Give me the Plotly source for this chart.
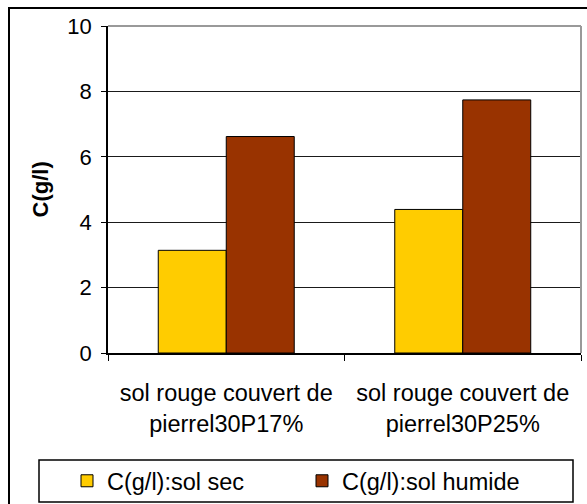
import plotly.graph_objects as go

categories = ["sol rouge couvert de<br>pierrel30P17%", "sol rouge couvert de<br>pierrel30P25%"]
sec_values = [3.14, 4.39]
humide_values = [6.62, 7.74]
series_names = ["C(g/l):sol sec", "C(g/l):sol humide"]
y_ticks = [0, 2, 4, 6, 8, 10]

W, H = 587, 504
L, R, T, B = 108, 6, 26, 151
PW, PH = W - L - R, H - T - B

def px(x):
    return (x - L) / PW

def py(y):
    return (T + PH - y) / PH

FONT = "Liberation Sans, Arial, sans-serif"

fig = go.Figure()
fig.add_trace(go.Bar(x=categories, y=sec_values, name=series_names[0],
                     marker=dict(color="#FFCC00", line=dict(color="black", width=1))))
fig.add_trace(go.Bar(x=categories, y=humide_values, name=series_names[1],
                     marker=dict(color="#993300", line=dict(color="black", width=1))))

fig.update_layout(
    width=W, height=H,
    margin=dict(l=L, r=R, t=T, b=B, pad=0, autoexpand=False),
    paper_bgcolor="white", plot_bgcolor="white",
    font=dict(family=FONT, size=23, color="black"),
    barmode="group", bargap=0.425, bargroupgap=0,
    showlegend=True,
    legend=dict(orientation="h", x=px(67), y=py(481), xanchor="left", yanchor="middle",
                bgcolor="rgba(0,0,0,0)", borderwidth=0,
                entrywidth=190, entrywidthmode="pixels",
                font=dict(family=FONT, size=23.5, color="black")),
    xaxis=dict(showline=True, linecolor="black", linewidth=1.5,
               ticks="outside", tickson="boundaries", ticklen=6, tickcolor="black",
               tickfont=dict(family=FONT, size=23.5, color="black"),
               ticklabelstandoff=18, showgrid=False, automargin=False),
    yaxis=dict(range=[0, 10], tickvals=y_ticks, showline=True, linecolor="black", linewidth=1.5,
               ticks="outside", ticklen=5, tickcolor="black",
               tickfont=dict(family=FONT, size=22, color="black"),
               ticklabelstandoff=5,
               showgrid=True, gridcolor="#1a1a1a", gridwidth=1.2, zeroline=False, automargin=False),
    shapes=[
        dict(type="line", xref="paper", yref="paper", x0=0, x1=1, y0=1, y1=1,
             line=dict(color="#999999", width=2)),
        dict(type="line", xref="paper", yref="paper", x0=1, x1=1, y0=0, y1=1,
             line=dict(color="#999999", width=2)),
        dict(type="rect", xref="paper", yref="paper", x0=px(9), x1=px(595), y0=py(512), y1=py(8),
             line=dict(color="black", width=2), fillcolor="rgba(0,0,0,0)"),
        dict(type="rect", xref="paper", yref="paper", x0=px(39), x1=px(573), y0=py(502), y1=py(460),
             line=dict(color="black", width=1.5), fillcolor="rgba(0,0,0,0)"),
    ],
    annotations=[
        dict(text="<b>C(g/l)</b>", xref="paper", yref="paper", x=px(40), y=0.5,
             textangle=-90, showarrow=False, xanchor="center", yanchor="middle",
             font=dict(family=FONT, size=22, color="black")),
    ],
)

fig.write_html("out.html", config={"displayModeBar": False},
               post_script="document.body.style.margin='0';")
